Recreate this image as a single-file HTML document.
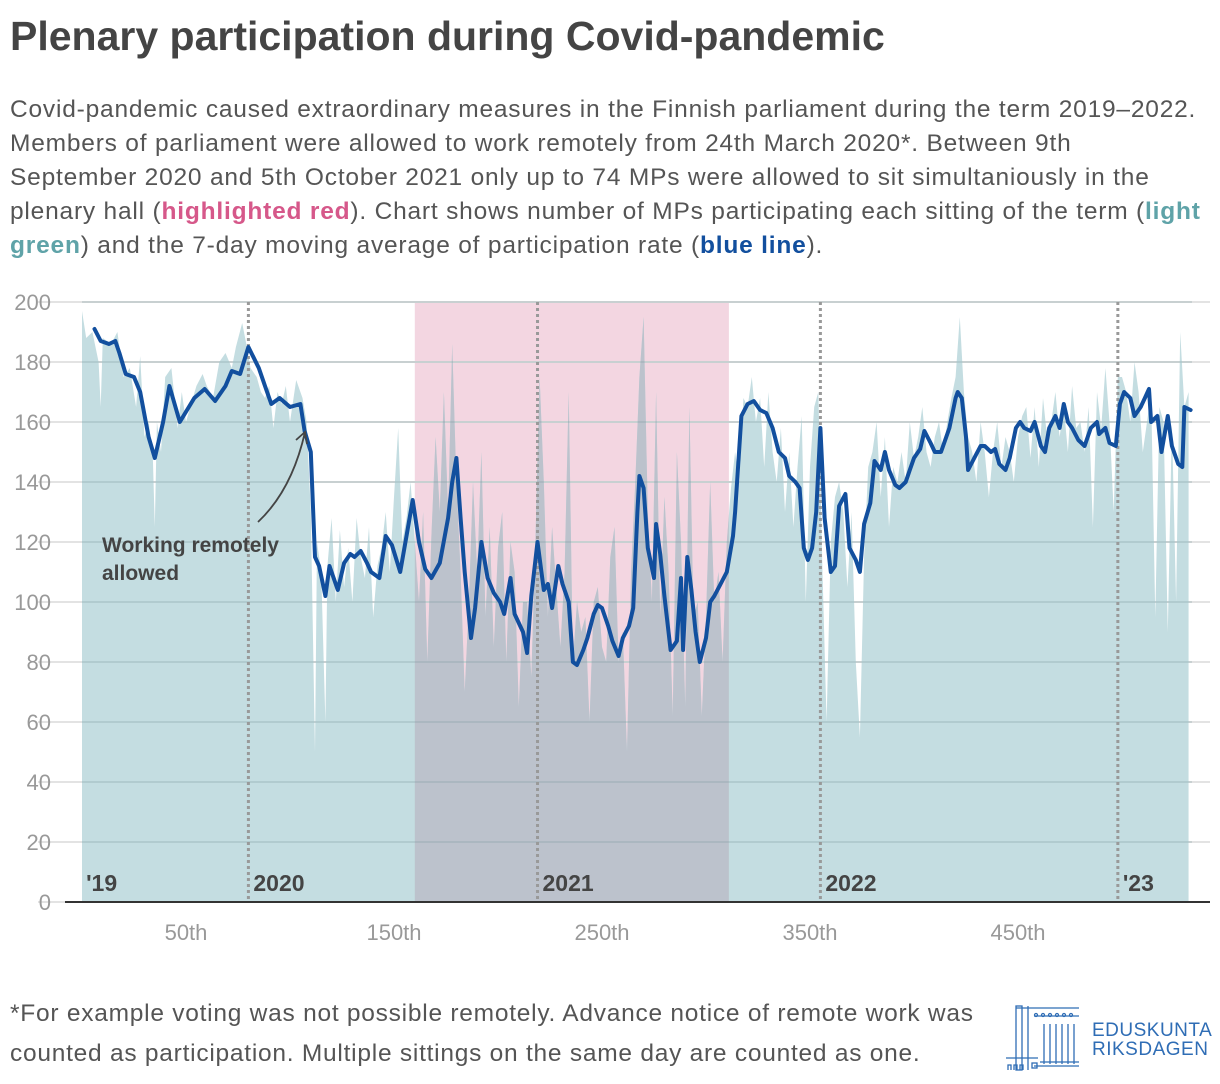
<!DOCTYPE html>
<html><head><meta charset="utf-8"><style>
body{margin:0;width:1220px;height:1084px;background:#fff;font-family:"Liberation Sans",sans-serif;position:relative;overflow:hidden}
#title{position:absolute;left:10px;top:13px;font-size:41px;font-weight:bold;color:#444;margin:0;letter-spacing:0px;white-space:nowrap}
#sub{position:absolute;left:10px;top:93px;width:1215px;font-size:24.5px;line-height:34px;color:#555;white-space:nowrap;letter-spacing:0.8px}
#foot{position:absolute;left:10px;top:994px;width:1000px;font-size:24.5px;line-height:40px;color:#555;white-space:nowrap;letter-spacing:0.75px}
svg{position:absolute;left:0;top:0}
</style></head><body>
<h1 id="title">Plenary participation during Covid-pandemic</h1>
<div id="sub">Covid-pandemic caused extraordinary measures in the Finnish parliament during the term 2019–2022.<br>Members of parliament were allowed to work remotely from 24th March 2020*. Between 9th<br>September 2020 and 5th October 2021 only up to 74 MPs were allowed to sit simultaniously in the<br>plenary hall (<b style="color:#d6588a">highlighted red</b>). Chart shows number of MPs participating each sitting of the term (<b style="color:#5fa3a8">light</b><br><b style="color:#5fa3a8">green</b>) and the 7-day moving average of participation rate (<b style="color:#124f9e">blue line</b>).</div>
<svg id="chart" width="1220" height="1084"></svg>
<div id="foot">*For example voting was not possible remotely. Advance notice of remote work was<br>counted as participation. Multiple sittings on the same day are counted as one.</div>
<svg width="1220" height="1084" style="pointer-events:none">
<g stroke="#2f6db5" fill="none" stroke-width="1.3">
<rect x="1016" y="1006" width="6" height="64"/><path d="M1016 1008H1079M1028 1006V1070M1034 1016H1079M1044 1024V1064M1050 1024V1064M1056 1024V1064M1062 1024V1064M1068 1024V1064M1074 1024V1064M1006 1058H1038M1034 1066H1079M1040 1062H1079"/>
<rect x="1032" y="1063" width="5" height="5"/>
<circle cx="1036" cy="1015" r="1.5"/><circle cx="1043" cy="1015" r="1.5"/><circle cx="1050" cy="1015" r="1.5"/><circle cx="1057" cy="1015" r="1.5"/><circle cx="1064" cy="1015" r="1.5"/><circle cx="1071" cy="1015" r="1.5"/>
<path d="M1008 1070v-5h3v5M1014 1070v-5h3v5M1020 1070v-5h3v5"/>
</g>
<text x="1092" y="1036" font-size="19" fill="#2f6db5" letter-spacing="0.5">EDUSKUNTA</text>
<text x="1092" y="1055" font-size="19" fill="#2f6db5" letter-spacing="0.5">RIKSDAGEN</text>
</svg>
<script>
const yTicks=[0,20,40,60,80,100,120,140,160,180,200];
const xTicks=[50,150,250,350,450];
const xTickLabels=["50th","150th","250th","350th","450th"];
const yearStarts=[1,80,219,355,498];
const yearLabels=["'19","2020","2021","2022","'23"];
const restrictStart=160, restrictEnd=311;
const rawSitting=[0,2,5,8,9,10,14,17,20,23,26,28,30,32,34,35,36,38,40,43,46,48,50,52,55,58,60,63,66,69,72,74,77,79,81,84,86,88,90,92,94,96,98,100,103,106,108,110,111,112,113,115,117,118,120,122,124,126,128,130,132,134,136,138,140,142,144,146,148,150,152,154,156,158,160,162,164,166,168,170,172,174,176,178,180,182,184,186,188,190,192,194,196,198,200,202,204,206,208,210,212,214,216,218,220,222,224,226,228,230,232,234,236,238,240,242,244,246,248,250,252,254,256,258,260,262,264,266,268,270,272,274,276,278,280,282,284,286,288,290,292,294,296,298,300,302,304,306,308,310,312,314,316,318,320,322,324,326,328,330,332,334,336,338,340,342,344,346,348,350,352,354,356,358,360,362,364,366,368,370,372,374,376,378,380,382,384,386,388,390,392,394,396,398,400,402,404,406,408,410,412,414,416,418,420,422,424,426,428,430,432,434,436,438,440,442,444,446,448,450,452,454,456,458,460,462,464,466,468,470,472,474,476,478,480,482,484,486,488,490,492,494,496,498,500,502,504,506,508,510,512,514,516,518,520,522,524,526,528,530,532];
const rawValue=[197,188,190,180,165,188,186,190,175,178,165,182,155,160,150,125,160,150,175,178,158,170,160,165,172,176,172,168,180,183,178,185,193,186,178,175,170,168,172,158,170,166,172,160,174,168,160,130,90,50,120,110,60,112,128,100,124,105,118,100,128,115,108,125,95,112,118,130,110,135,158,120,128,140,120,100,130,80,122,155,130,170,130,186,140,110,70,100,140,110,150,95,125,85,118,130,80,120,110,65,100,100,75,120,175,140,95,125,105,85,110,170,80,100,90,95,60,100,105,85,80,115,125,80,90,50,110,140,175,195,130,100,170,95,135,110,62,150,120,65,165,95,100,62,95,140,100,110,80,120,138,150,140,168,165,175,160,168,145,170,150,140,158,130,150,125,145,162,100,145,165,170,110,60,120,135,140,130,105,130,80,55,115,145,150,160,135,155,125,145,140,150,140,160,148,155,165,150,145,155,160,150,160,168,175,195,170,155,150,140,160,150,135,150,160,145,155,150,140,155,162,165,148,165,145,168,155,160,170,155,165,150,172,158,160,150,165,125,170,158,178,160,130,175,175,170,160,180,170,150,160,170,95,165,160,90,160,100,190,165,170];
const avgSitting=[6,9,13,16,18,21,25,28,32,35,39,42,47,54,59,64,69,72,76,80,85,88,91,95,100,105,107,110,112,114,117,119,123,126,129,131,134,137,139,143,146,149,153,156,159,162,165,168,172,176,178,180,182,184,187,189,192,195,198,201,203,206,208,212,214,216,219,222,224,226,229,231,234,236,238,241,243,246,248,250,253,255,258,260,263,265,267,268,270,272,275,276,278,280,283,286,288,289,291,293,295,297,300,302,304,307,310,313,314,317,320,323,326,329,332,335,338,340,343,345,347,349,351,353,355,357,360,362,364,367,369,372,374,376,379,381,384,386,388,391,393,396,398,400,403,405,408,410,413,415,417,420,421,423,425,426,429,432,434,437,439,441,444,446,449,451,453,456,458,461,463,465,468,470,472,474,476,479,482,485,488,489,492,494,497,499,501,504,506,509,511,513,514,517,519,522,524,527,529,530,533];
const avgValue=[191,187,186,187,183,176,175,170,155,148,160,172,160,168,171,167,172,177,176,185,178,172,166,168,165,166,157,150,115,112,102,112,104,113,116,115,117,113,110,108,122,119,110,122,134,120,111,108,113,128,140,148,128,110,88,98,120,108,103,100,96,108,96,90,83,102,120,104,106,98,112,106,100,80,79,84,88,96,99,98,92,87,82,88,92,98,130,142,138,118,108,126,116,102,84,87,108,84,115,104,90,80,88,100,102,106,110,122,130,162,166,167,164,163,158,150,148,142,140,138,118,114,118,130,158,128,110,112,132,136,118,114,110,126,133,147,144,150,144,139,138,140,144,148,151,157,153,150,150,154,158,168,170,168,155,144,148,152,152,150,151,146,144,148,158,160,158,157,160,152,150,158,162,158,166,160,158,154,152,158,160,156,158,153,152,166,170,168,162,165,168,171,160,162,150,162,152,146,145,165,164];

const NS='http://www.w3.org/2000/svg';
const svg=document.getElementById('chart');
const X=n=>82+2.08*n;
const Y=v=>902-3*v;
function mk(tag,attrs,parent){const e=document.createElementNS(NS,tag);for(const k in attrs)e.setAttribute(k,attrs[k]);(parent||svg).appendChild(e);return e;}

const defs=mk('defs',{});
const cp=mk('clipPath',{id:'redclip'},defs);
mk('rect',{x:X(restrictStart),y:0,width:X(restrictEnd)-X(restrictStart),height:1084},cp);

const rb=mk('rect',{x:X(restrictStart),y:Y(200),width:X(restrictEnd)-X(restrictStart),height:Y(0)-Y(200),fill:'#f3d6e1'});



yTicks.forEach(t=>{
  const g=mk('line',{x1:38,x2:1210,y1:Y(t),y2:Y(t),stroke:'#e3e3e3','stroke-width':2});
  
  
});

let d='M'+X(rawSitting[0])+','+Y(0);
rawSitting.forEach((s,i)=>{d+='L'+X(s).toFixed(1)+','+Y(rawValue[i]).toFixed(1);});
d+='L'+X(rawSitting[rawSitting.length-1])+','+Y(0)+'Z';
const area=mk('path',{d:d,fill:'#c4dde1'});


const area2=mk('path',{d:d,fill:'#bcc2cc','clip-path':'url(#redclip)'});



yTicks.forEach(t=>{if(t===0)return;
  const g=mk('line',{x1:82,x2:1192,y1:Y(t),y2:Y(t),stroke:'rgba(120,150,155,0.25)','stroke-width':2});
  
  
});

yearStarts.forEach((s,i)=>{
  if(i>0){const l=mk('line',{x1:X(s),x2:X(s),y1:Y(200),y2:Y(0),stroke:'#999','stroke-width':3,'stroke-dasharray':'3 3'});
  
  }
  const t=mk('text',{x:X(s)+(i>0?5:2),y:891,'font-size':23,'font-weight':'bold',fill:'#444'});
  t.textContent=yearLabels[i];
  
  
});

const ax=mk('line',{x1:65,x2:1210,y1:Y(0),y2:Y(0),stroke:'#333','stroke-width':2});



yTicks.forEach(t=>{
  const e=mk('text',{x:51,y:Y(t)+8,'font-size':22,fill:'#999','text-anchor':'end'});
  e.textContent=t;
  
  
});
xTicks.forEach((t,i)=>{
  const e=mk('text',{x:X(t),y:940,'font-size':22,fill:'#999','text-anchor':'middle'});
  e.textContent=xTickLabels[i];
  
  
});

let ld='';
avgSitting.forEach((s,i)=>{ld+=(i?'L':'M')+X(s).toFixed(1)+','+Y(avgValue[i]).toFixed(1);});
const line=mk('path',{d:ld,fill:'none',stroke:'#124f9e','stroke-width':4,'stroke-linejoin':'round','stroke-linecap':'round'});



const arr=mk('path',{d:'M258,522 Q292,490 305,432 M296,440 L305,432 L307,444',fill:'none',stroke:'#444','stroke-width':1.8});


const a1=mk('text',{x:102,y:552,'font-size':21,'font-weight':'bold',fill:'#444'});
a1.textContent='Working remotely';


const a2=mk('text',{x:102,y:580,'font-size':21,'font-weight':'bold',fill:'#444'});
a2.textContent='allowed';


</script>
</body></html>
